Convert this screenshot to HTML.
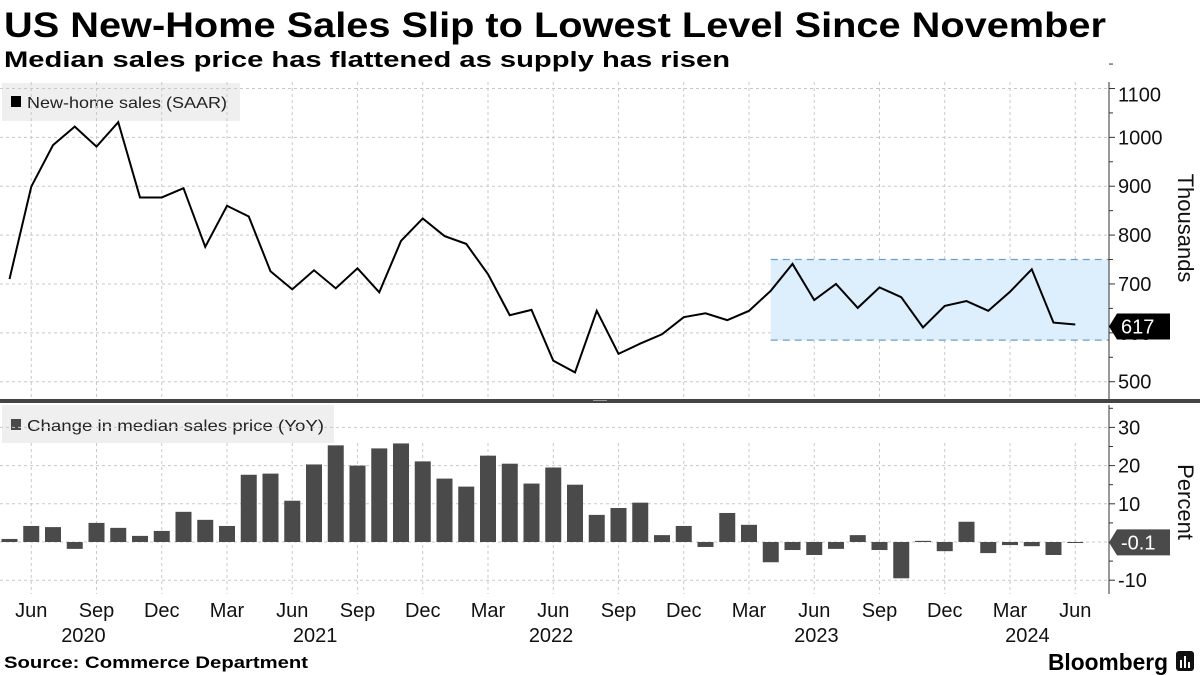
<!DOCTYPE html>
<html><head><meta charset="utf-8"><style>
html,body{margin:0;padding:0;background:#fff;}
svg{display:block;font-family:"Liberation Sans",sans-serif;}
</style></head><body>
<svg id="c" width="1200" height="675" viewBox="0 0 1200 675">
<text x="4" y="37" font-size="35" font-weight="bold" textLength="1102" lengthAdjust="spacingAndGlyphs">US New-Home Sales Slip to Lowest Level Since November</text>
<text x="4" y="67" font-size="22" font-weight="bold" textLength="726" lengthAdjust="spacingAndGlyphs">Median sales price has flattened as supply has risen</text>
<g id="grid"></g>
<g id="top"></g>
<g id="bot"></g>
<g id="axes"></g>
<text x="4" y="668" font-size="17" font-weight="bold" textLength="304" lengthAdjust="spacingAndGlyphs">Source: Commerce Department</text>
<text x="1048" y="670" font-size="23" font-weight="bold" textLength="120" lengthAdjust="spacingAndGlyphs">Bloomberg</text>
<g><rect x="1176" y="651" width="18" height="20" rx="3" fill="#111"/><rect x="1180" y="660" width="2" height="8" fill="#fff"/><rect x="1184" y="656" width="2" height="12" fill="#fff"/><rect x="1188" y="662" width="2" height="6" fill="#fff"/></g>
</svg>
<script>
const months=["May","Jun","Jul","Aug","Sep","Oct","Nov","Dec","Jan","Feb","Mar","Apr","May","Jun","Jul","Aug","Sep","Oct","Nov","Dec","Jan","Feb","Mar","Apr","May","Jun","Jul","Aug","Sep","Oct","Nov","Dec","Jan","Feb","Mar","Apr","May","Jun","Jul","Aug","Sep","Oct","Nov","Dec","Jan","Feb","Mar","Apr","May","Jun"];
const sales=[710,899,984,1022,981,1031,877,877,896,776,860,838,726,689,728,691,732,683,788,834,798,782,720,636,647,543,519,645,557,578,597,632,640,626,645,686,741,667,700,651,693,673,611,655,665,645,684,730,621,617];
const priceYoY=[0.8,4.2,3.9,-1.8,5.0,3.7,1.6,2.9,7.9,5.8,4.2,17.6,17.9,10.8,20.3,25.3,20.0,24.5,25.8,21.1,16.6,14.5,22.6,20.5,15.3,19.5,15.0,7.1,8.9,10.3,1.8,4.2,-1.3,7.6,4.5,-5.3,-2.1,-3.4,-1.8,1.8,-2.1,-9.5,0.3,-2.4,5.3,-2.9,-0.8,-1.1,-3.4,-0.1];
const salesTicks=[500,600,700,800,900,1000,1100];
const pctTicks=[-10,0,10,20,30];
const tickMonths=["Jun","Sep","Dec","Mar","Jun","Sep","Dec","Mar","Jun","Sep","Dec","Mar","Jun","Sep","Dec","Mar","Jun"];
const yearLabels=["2020","2021","2022","2023","2024"];
const bandRange=[585,750];
const bandStart=35;

const NS="http://www.w3.org/2000/svg";
function mk(tag,attrs,parent){const e=document.createElementNS(NS,tag);for(const k in attrs)e.setAttribute(k,attrs[k]);parent.appendChild(e);return e;}
const X=i=>9.5+i*21.75;
const Y1=v=>381.7-(v-500)*0.4887;
const Y2=v=>542-v*3.82;
const AX=1109;
const grid=document.getElementById('grid'),top_=document.getElementById('top'),bot=document.getElementById('bot'),axes=document.getElementById('axes');

let lg=mk('rect',{x:2,y:83,width:238,height:38,fill:'#efefef'},grid);


mk('rect',{x:11,y:96,width:10,height:11,fill:'#000'},grid);
let lt=mk('text',{x:27,y:108,'font-size':16,fill:'#222',textLength:200,lengthAdjust:'spacingAndGlyphs'},grid);lt.textContent='New-home sales (SAAR)';


let lg2=mk('rect',{x:2,y:405,width:332,height:38,fill:'#efefef'},grid);


mk('rect',{x:11,y:419,width:10,height:11,fill:'#4a4a4a'},grid);
let lt2=mk('text',{x:27,y:431,'font-size':16,fill:'#222',textLength:297,lengthAdjust:'spacingAndGlyphs'},grid);lt2.textContent='Change in median sales price (YoY)';



for(let k=0;k<tickMonths.length;k++){
  const i=1+k*3,x=X(i);
  mk('line',{x1:x,x2:x,y1:82,y2:398,stroke:'#c8c8c8','stroke-dasharray':'3,3'},grid);
  mk('line',{x1:x,x2:x,y1:443,y2:594,stroke:'#c8c8c8','stroke-dasharray':'3,3'},grid);
  const t=mk('text',{x:x,y:617,'font-size':20,'text-anchor':'middle',fill:'#111'},axes);t.textContent=tickMonths[k];
  
  
}
const yearIdx=[3.4,14.05,24.9,37.1,46.8];
yearLabels.forEach((y,k)=>{const t=mk('text',{x:X(yearIdx[k]),y:642,'font-size':20,'text-anchor':'middle',fill:'#111'},axes);t.textContent=y;
  
  });

salesTicks.forEach(v=>{const y=Y1(v);
  mk('line',{x1:0,x2:AX,y1:y,y2:y,stroke:'#c8c8c8','stroke-dasharray':'3,3'},grid);
  mk('line',{x1:AX,x2:AX+6,y1:y,y2:y,stroke:'#333'},axes);
  mk('line',{x1:AX,x2:AX+4,y1:Y1(v+50),y2:Y1(v+50),stroke:'#333'},axes);
  const t=mk('text',{x:AX+9,y:y+7+(v===1100?6:0),'font-size':20,fill:'#111'},axes);t.textContent=v;
  
  });
pctTicks.forEach(v=>{const y=Y2(v);
  mk('line',{x1:0,x2:AX,y1:y,y2:y,stroke:'#c8c8c8','stroke-dasharray':'3,3'},grid);
  mk('line',{x1:AX,x2:AX+6,y1:y,y2:y,stroke:'#333'},axes);
  mk('line',{x1:AX,x2:AX+4,y1:Y2(v+5),y2:Y2(v+5),stroke:'#333'},axes);
  if(v!==0){const t=mk('text',{x:AX+9,y:y+7,'font-size':20,fill:'#111'},axes);t.textContent=v;
  
  }});
mk('line',{x1:AX,x2:AX,y1:82,y2:400,stroke:'#333'},axes);
mk('line',{x1:AX,x2:AX,y1:405,y2:594,stroke:'#333'},axes);
mk('rect',{x:0,y:399,width:1200,height:4,fill:'#444'},axes);
mk('rect',{x:593,y:400,width:14,height:1,fill:'#999'},axes);

const bx=X(bandStart);
const band=mk('rect',{x:bx,y:Y1(bandRange[1]),width:AX-bx,height:Y1(bandRange[0])-Y1(bandRange[1]),fill:'#ddeefc'},top_);


bandRange.forEach(v=>mk('line',{x1:bx,x2:AX,y1:Y1(v),y2:Y1(v),stroke:'#6a9fcf','stroke-width':1.2,'stroke-dasharray':'7,5'},top_));

const pl=mk('polyline',{points:sales.map((v,i)=>X(i)+','+Y1(v)).join(' '),fill:'none',stroke:'#000','stroke-width':2,'stroke-linejoin':'miter'},top_);



priceYoY.forEach((v,i)=>{const y0=Y2(0),y=Y2(v);
  const b=mk('rect',{x:X(i)-8,y:Math.min(y0,y),width:16,height:Math.max(Math.abs(y-y0),1),fill:'#4a4a4a'},bot);
  
  });

function flag(v,y,fill,name){const g=mk('g',{},axes);
  
  
  mk('path',{d:`M${AX} ${y} L${AX+8} ${y-13} L${AX+61} ${y-13} L${AX+61} ${y+13} L${AX+8} ${y+13} Z`,fill:fill},g);
  const t=mk('text',{x:AX+12,y:y+7,'font-size':20,fill:'#fff'},g);t.textContent=v;}
flag(sales[sales.length-1],Y1(sales[sales.length-1])+2,'#000','sales-last-value');
flag(priceYoY[priceYoY.length-1].toFixed(1),Y2(priceYoY[priceYoY.length-1]),'#4a4a4a','price-last-value');

let at=mk('text',{x:0,y:0,'font-size':22,fill:'#111','text-anchor':'middle',transform:'translate(1178,228) rotate(90)'},axes);at.textContent='Thousands';


let at2=mk('text',{x:0,y:0,'font-size':22,fill:'#111','text-anchor':'middle',transform:'translate(1178,502) rotate(90)'},axes);at2.textContent='Percent';


</script>
</body></html>
